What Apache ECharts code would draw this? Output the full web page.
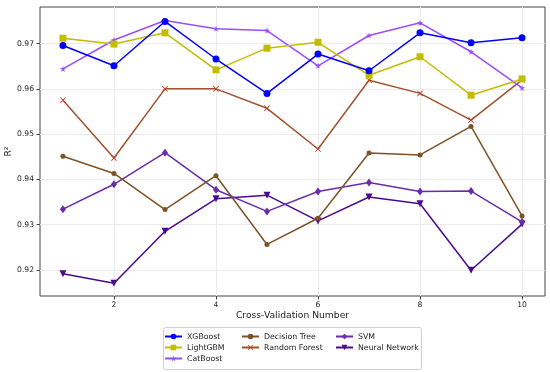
<!DOCTYPE html>
<html>
<head>
<meta charset="utf-8">
<script src="https://cdn.jsdelivr.net/npm/echarts@6/dist/echarts.min.js"></script>
<style>html,body{margin:0;padding:0;background:#fff}#c{width:550px;height:372px}</style>
</head>
<body>
<div id="c"></div>
<script>
const folds = [1,2,3,4,5,6,7,8,9,10];
const xTicks = [2,4,6,8,10];
const yTicks = [0.92,0.93,0.94,0.95,0.96,0.97];
const xgboost = [0.9696,0.9651,0.9749,0.9666,0.9590,0.9677,0.9640,0.9724,0.9702,0.9713];
const lightgbm = [0.9712,0.9699,0.9724,0.9642,0.9690,0.9703,0.9630,0.9671,0.9586,0.9622];
const catboost = [0.9644,0.9708,0.9751,0.9733,0.9729,0.9651,0.9718,0.9746,0.9682,0.9602];
const decisionTree = [0.9451,0.9413,0.9333,0.9408,0.9256,0.9314,0.9458,0.9454,0.9517,0.9319];
const randomForest = [0.9575,0.9447,0.9600,0.9600,0.9557,0.9467,0.9619,0.9590,0.9531,0.9620];
const svm = [0.9334,0.9389,0.9459,0.9377,0.9329,0.9373,0.9393,0.9373,0.9374,0.9306];
const neuralNetwork = [0.9191,0.9170,0.9285,0.9357,0.9365,0.9308,0.9361,0.9346,0.9199,0.9301];
const names = ['XGBoost','LightGBM','CatBoost','Decision Tree','Random Forest','SVM','Neural Network'];

const STAR = 'path://M5,0 L6.2,3.6 L10,3.6 L6.9,5.9 L8.1,9.5 L5,7.3 L1.9,9.5 L3.1,5.9 L0,3.6 L3.8,3.6 Z';
const XMARK = 'path://M0,1 L1,0 L5,4 L9,0 L10,1 L6,5 L10,9 L9,10 L5,6 L1,10 L0,9 L4,5 Z';

function mk(name, data, color, symbol, size, extra) {
  return Object.assign({
    name: name, type: 'line',
    data: folds.map((f,i)=>[f, data[i]]),
    symbol: symbol, symbolSize: size,
    lineStyle: {color: color, width: 1.5},
    itemStyle: {color: color},
    animation: false
  }, extra || {});
}

const chart = echarts.init(document.getElementById('c'), null, {renderer:'canvas'});
const font = 'DejaVu Sans';
const legendBase = {
  orient: 'vertical', itemWidth: 17, itemHeight: 7, itemGap: 2, height: 80,
  padding: 0,
  textStyle: {fontFamily: font, fontSize: 7.8, color: '#222', lineHeight: 9},
  selectedMode: false
};
chart.setOption({
  textStyle: {fontFamily: font},
  grid: {left: 40, right: 5, top: 7, bottom: 76, containLabel: false, outerBoundsMode: 'none',
    show: true, borderColor: '#444', borderWidth: 1, backgroundColor: 'transparent'},
  xAxis: {
    type: 'value', min: 0.55, max: 10.45,
    name: 'Cross-Validation Number', nameLocation: 'middle', nameGap: 15, nameMoveOverlap: false,
    nameTextStyle: {fontFamily: font, fontSize: 9.2, color: '#222'},
    axisLine: {show: false},
    axisTick: {show: true, length: 3.5, customValues: xTicks, lineStyle: {color: '#444'}},
    axisLabel: {customValues: xTicks, fontFamily: font, fontSize: 7.6, color: '#222', margin: 5},
    splitLine: {show: true, lineStyle: {color: '#ebebeb', width: 1}}
  },
  yAxis: {
    type: 'value', min: 0.9142, max: 0.9781,
    name: 'R²', nameLocation: 'middle', nameGap: 27, nameRotate: 90, nameMoveOverlap: false,
    nameTextStyle: {fontFamily: font, fontSize: 9.2, color: '#222'},
    axisLine: {show: false},
    axisTick: {show: true, length: 3.5, customValues: yTicks, lineStyle: {color: '#444'}},
    axisLabel: {customValues: yTicks, fontFamily: font, fontSize: 7.6, color: '#222', margin: 6,
      formatter: v => v.toFixed(2)},
    splitLine: {show: true, lineStyle: {color: '#ebebeb', width: 1}}
  },
  legend: [
    Object.assign({left: 164, top: 332, data: names.slice(0,3)}, legendBase),
    Object.assign({left: 241, top: 332, data: names.slice(3,5)}, legendBase),
    Object.assign({left: 335, top: 332, data: names.slice(5,7)}, legendBase)
  ],
  graphic: [{
    type: 'rect', left: 163, top: 327,
    shape: {width: 258, height: 42, r: 2},
    style: {fill: 'rgba(255,255,255,0.8)', stroke: '#d0d0d0', lineWidth: 1},
    z: -1
  }],
  series: [
    mk('XGBoost', xgboost, '#0000ff', 'circle', 7, {z: 9}),
    mk('LightGBM', lightgbm, '#c4bc00', 'rect', 7, {z: 8}),
    mk('CatBoost', catboost, '#9b4dff', STAR, 6, {z: 7}),
    mk('Decision Tree', decisionTree, '#7d5226', 'circle', 5, {z: 6}),
    mk('Random Forest', randomForest, '#a0522d', XMARK, 6, {z: 5, itemStyle: {color: '#c0392b'}}),
    mk('SVM', svm, '#6a2ca8', 'diamond', [6,8], {z: 4}),
    mk('Neural Network', neuralNetwork, '#4b0a8c', 'triangle', 7, {z: 3, symbolRotate: 180})
  ]
});
</script>
</body>
</html>
